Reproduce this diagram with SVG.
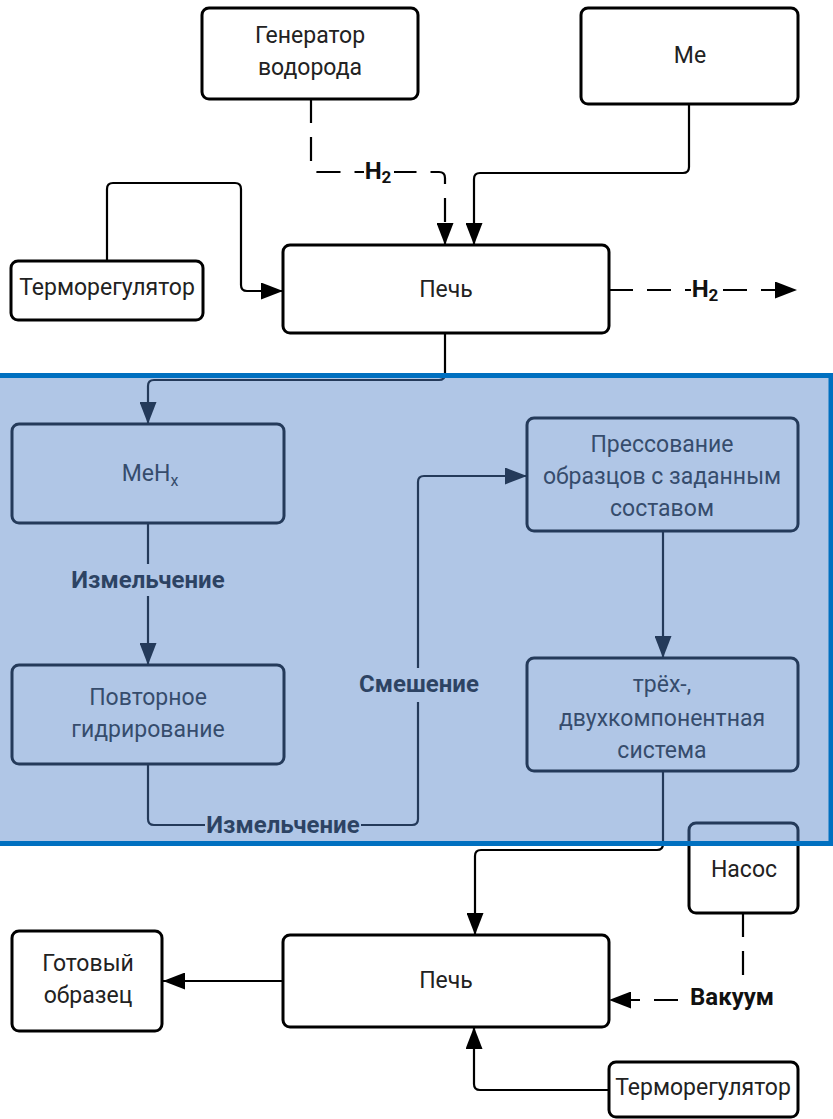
<svg xmlns="http://www.w3.org/2000/svg" width="833" height="1119" viewBox="0 0 833 1119">
  <style>
    .box { fill: #ffffff; stroke: #000000; stroke-width: 3; }
    .txt { font-family: Roboto, "Liberation Sans", sans-serif; font-size: 23px; fill: #222222; text-anchor: middle; }
    .lbl { font-family: Roboto, "Liberation Sans", sans-serif; font-size: 24px; font-weight: bold; fill: #111111; text-anchor: middle; }
    .wire { fill: none; stroke: #000000; stroke-width: 2.2; }
    .dash { stroke-dasharray: 24 14; }
    .bg { fill: #ffffff; }
  </style>
  <defs>
    <marker id="arrow" viewBox="0 0 22 17" refX="22" refY="8.5" markerWidth="22" markerHeight="17" markerUnits="userSpaceOnUse" orient="auto">
      <path d="M0,0 L22,8.5 L0,17 Z" fill="#000000"/>
    </marker>
  </defs>

  <rect width="833" height="1119" fill="#ffffff"/>

  <!-- connectors -->
  <g id="connectors">
    <path class="wire dash" d="M311,99 V166 Q311,172 317,172 H439 Q445,172 445,178 V245" marker-end="url(#arrow)"/>
    <path class="wire" d="M689,104 V167 Q689,173 683,173 H480 Q474,173 474,179 V245" marker-end="url(#arrow)"/>
    <path class="wire" d="M107,261 V189 Q107,183 113,183 H235 Q241,183 241,189 V285 Q241,291 247,291 H283" marker-end="url(#arrow)"/>
    <path class="wire dash" d="M609,290 H797" marker-end="url(#arrow)"/>
    <path class="wire" d="M445,333 V374 Q445,380 439,380 H154 Q148,380 148,386 V424" marker-end="url(#arrow)"/>
    <path class="wire" d="M148,523 V665" marker-end="url(#arrow)"/>
    <path class="wire" d="M148,764 V819 Q148,825 154,825 H412 Q418,825 418,819 V482 Q418,476 424,476 H527" marker-end="url(#arrow)"/>
    <path class="wire" d="M663,531 V658" marker-end="url(#arrow)"/>
    <path class="wire" d="M663,771 V844 Q663,850 657,850 H481 Q475,850 475,856 V935" marker-end="url(#arrow)"/>
    <path class="wire dash" d="M743,913 V1000 H609" marker-end="url(#arrow)"/>
    <path class="wire" d="M283,981 H163" marker-end="url(#arrow)"/>
    <path class="wire" d="M609,1090 H480 Q474,1090 474,1084 V1027" marker-end="url(#arrow)"/>

    <!-- connector labels -->
    <rect class="bg" x="364" y="160" width="30" height="26"/>
    <text class="lbl" x="378" y="179">H<tspan font-size="17" dy="4">2</tspan></text>
    <rect class="bg" x="691" y="278" width="28" height="26"/>
    <text class="lbl" x="705" y="297">H<tspan font-size="17" dy="4">2</tspan></text>
    <rect class="bg" x="68" y="564" width="160" height="32"/>
    <text class="lbl" x="148" y="588">Измельчение</text>
    <rect class="bg" x="205" y="812" width="156" height="28"/>
    <text class="lbl" x="283" y="833">Измельчение</text>
    <rect class="bg" x="356" y="668" width="126" height="34"/>
    <text class="lbl" x="419" y="692">Смешение</text>
    <rect class="bg" x="688" y="984" width="90" height="30"/>
    <text class="lbl" x="732" y="1005">Вакуум</text>
  </g>

  <!-- nodes -->
  <g id="generator">
    <rect class="box" x="202" y="8" width="216" height="91" rx="7"/>
    <text class="txt" x="310" y="43">Генератор</text>
    <text class="txt" x="310" y="75">водорода</text>
  </g>
  <g id="metal">
    <rect class="box" x="581" y="8" width="217" height="96" rx="7"/>
    <text class="txt" x="690" y="63">Me</text>
  </g>
  <g id="furnace-top">
    <rect class="box" x="283" y="245" width="326" height="88" rx="7"/>
    <text class="txt" x="446" y="297">Печь</text>
  </g>
  <g id="thermo-top">
    <rect class="box" x="11" y="261" width="192" height="59" rx="7"/>
    <text class="txt" x="107" y="295">Терморегулятор</text>
  </g>
  <g id="hydride">
    <rect class="box" x="12" y="424" width="272" height="99" rx="7"/>
    <text class="txt" x="150" y="481">MeH<tspan font-size="16" dy="5">x</tspan></text>
  </g>
  <g id="rehydride">
    <rect class="box" x="12" y="665" width="272" height="99" rx="7"/>
    <text class="txt" x="148" y="705">Повторное</text>
    <text class="txt" x="148" y="737">гидрирование</text>
  </g>
  <g id="pressing">
    <rect class="box" x="527" y="418" width="271" height="113" rx="7"/>
    <text class="txt" x="662" y="452">Прессование</text>
    <text class="txt" x="662" y="484">образцов с заданным</text>
    <text class="txt" x="662" y="516">составом</text>
  </g>
  <g id="system">
    <rect class="box" x="527" y="658" width="271" height="113" rx="7"/>
    <text class="txt" x="662" y="692">трёх-,</text>
    <text class="txt" x="662" y="726">двухкомпонентная</text>
    <text class="txt" x="662" y="758">система</text>
  </g>
  <g id="pump">
    <rect class="box" x="689" y="823" width="109" height="90" rx="7"/>
    <text class="txt" x="744" y="877">Насос</text>
  </g>
  <g id="furnace-bottom">
    <rect class="box" x="283" y="935" width="326" height="92" rx="7"/>
    <text class="txt" x="446" y="988">Печь</text>
  </g>
  <g id="sample">
    <rect class="box" x="12" y="931" width="150" height="100" rx="7"/>
    <text class="txt" x="88" y="971">Готовый</text>
    <text class="txt" x="88" y="1003">образец</text>
  </g>
  <g id="thermo-bottom">
    <rect class="box" x="609" y="1062" width="189" height="55" rx="7"/>
    <text class="txt" x="703" y="1095">Терморегулятор</text>
  </g>

  <!-- translucent highlight over the hydride processing stage -->
  <rect id="stage-highlight" x="-4" y="375.5" width="835" height="468" fill="rgb(80,129,200)" fill-opacity="0.45" stroke="#0070c0" stroke-width="5"/>
</svg>
